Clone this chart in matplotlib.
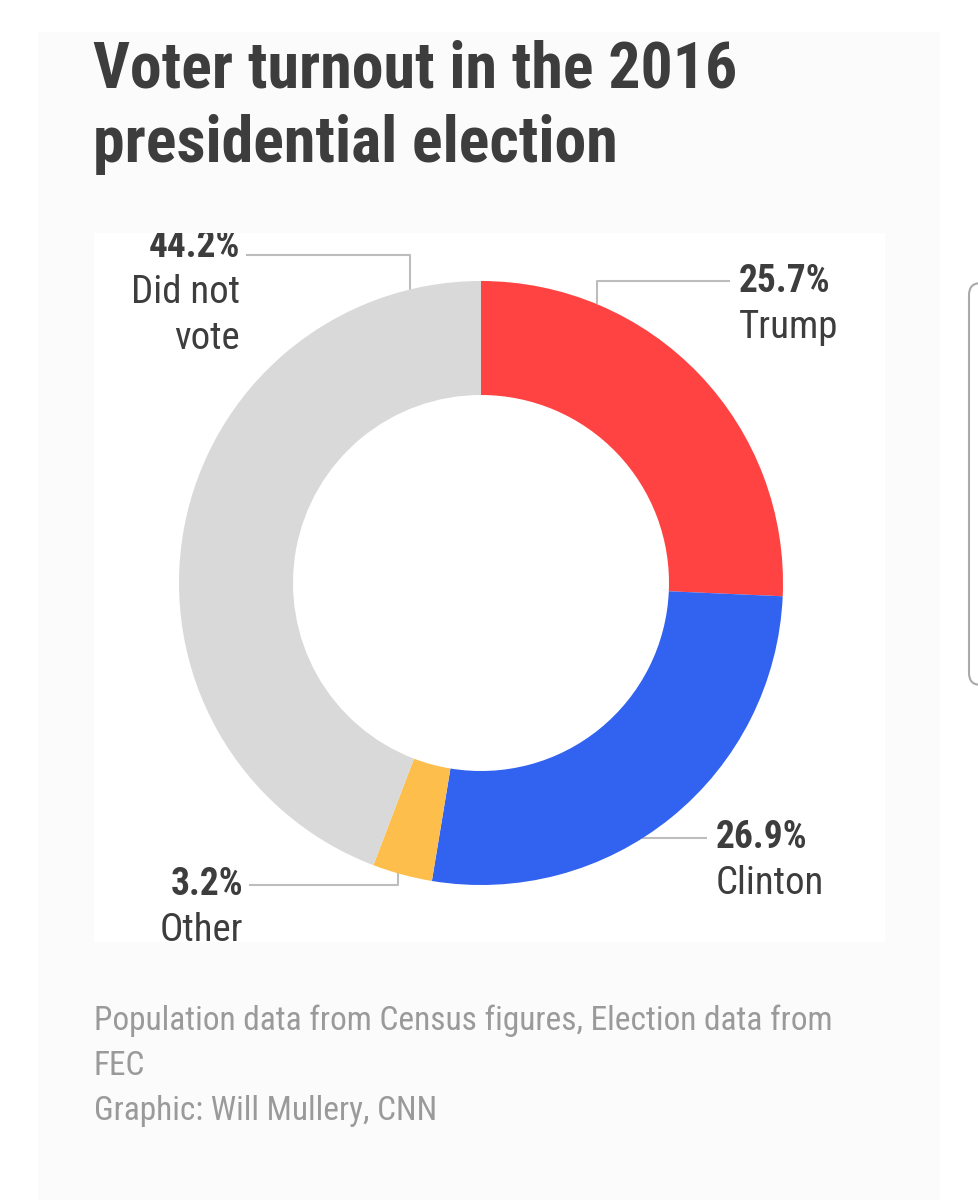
import numpy as np
import matplotlib
matplotlib.use("Agg")
import matplotlib.pyplot as plt
from matplotlib import font_manager as fm
from matplotlib.patches import Rectangle, FancyBboxPatch

# data
labels = ["Trump", "Clinton", "Other", "Did not\nvote"]
shares = [25.7, 26.9, 3.2, 44.2]
colors = ["#ff4242", "#3162f0", "#fdbe4b", "#d9d9d9"]

title = "Voter turnout in the 2016\npresidential election"
source = "Population data from Census figures, Election data from\nFEC"
credit = "Graphic: Will Mullery, CNN"

# layout (pixels)
W, H = 979, 1200
cx, cy, R, r_in = 481, 583, 302, 188
# where on each wedge the leader line starts (fraction along wedge, clockwise)
anchor_frac = [0.244, 0.57, 0.58, 0.914]
# label block: (text x, percent baseline, leader y, align)
label_pos = [
    (739, 292, 281, "left"),
    (716, 848, 838, "left"),
    (243, 895, 885, "right"),
    (240, 257, 255, "right"),
]
line_gap = 46


def pick_font():
    fl = fm.fontManager.ttflist
    for name, stretch in [("Roboto Condensed", None), ("Liberation Sans Narrow", None),
                          ("DejaVu Sans", "condensed"), ("Roboto", None)]:
        for f in fl:
            if f.name == name and (stretch is None or f.stretch == stretch):
                return name, stretch or "normal"
    return "DejaVu Sans", "normal"


family, stretch = pick_font()
dark = "#3d3d3d"
grey_txt = "#9a9a9a"

fig = plt.figure(figsize=(W / 100, H / 100), dpi=100, facecolor="white")

# background / page
bg = fig.add_axes([0, 0, 1, 1])
bg.set_xlim(0, W)
bg.set_ylim(H, 0)
bg.axis("off")
bg.add_patch(Rectangle((38, 32), 902, 1200, facecolor="#fbfbfb", edgecolor="none"))
bg.add_patch(FancyBboxPatch((969, 283), 40, 402, boxstyle="round,pad=0,rounding_size=12",
                            facecolor="white", edgecolor="#aaaaaa", lw=1.5))

for i, line in enumerate(title.split("\n")):
    bg.text(93, 88 + i * 74, line, fontsize=46, fontweight="bold", color=dark,
            family=family, fontstretch=stretch, va="baseline", ha="left")
for i, line in enumerate(source.split("\n") + [credit]):
    bg.text(94, 1030 + i * 45, line, fontsize=24, color=grey_txt, family=family,
            fontstretch=stretch, va="baseline", ha="left")

# white chart area, in pixel coordinates
cl, ct, cr, cb = 94, 233, 885, 942
ch = fig.add_axes([cl / W, 1 - cb / H, (cr - cl) / W, (cb - ct) / H])
ch.set_xlim(cl, cr)
ch.set_ylim(cb, ct)
ch.set_facecolor("white")
ch.set_xticks([])
ch.set_yticks([])
for s in ch.spines.values():
    s.set_visible(False)

# donut
pa = fig.add_axes([(cx - R) / W, 1 - (cy + R) / H, 2 * R / W, 2 * R / H])
wedges, _ = pa.pie(shares, colors=colors, startangle=90, counterclock=False,
                   radius=1, wedgeprops=dict(width=(R - r_in) / R, edgecolor="none"))
pa.set_xlim(-1, 1)
pa.set_ylim(-1, 1)
pa.set_aspect("equal")
pa.axis("off")

for w, lab, val, frac, (tx, ty, ly, ha) in zip(wedges, labels, shares, anchor_frac, label_pos):
    a = np.deg2rad(w.theta2 - frac * (w.theta2 - w.theta1))
    ax_, ay_ = cx + R * np.cos(a), cy - R * np.sin(a)
    gap = 9 if ha == "left" else -6
    if abs(np.cos(a)) < 0.45:
        xs, ys = [ax_, ax_, tx - gap], [ay_, ly, ly]
    else:
        xs, ys = [ax_, tx - gap], [ly, ly]
    ch.plot(xs, ys, color="#bdbdbd", lw=1.5, solid_capstyle="butt", zorder=1)
    ch.text(tx, ty, f"{val}%", fontsize=27, fontweight="bold", color=dark, family=family,
            fontstretch=stretch, ha=ha, va="baseline", clip_on=True)
    for j, part in enumerate(lab.split("\n")):
        ch.text(tx, ty + (j + 1) * line_gap, part, fontsize=28, color=dark, family=family,
                fontstretch=stretch, ha=ha, va="baseline")

fig.savefig("out.png", dpi=100, facecolor="white")
